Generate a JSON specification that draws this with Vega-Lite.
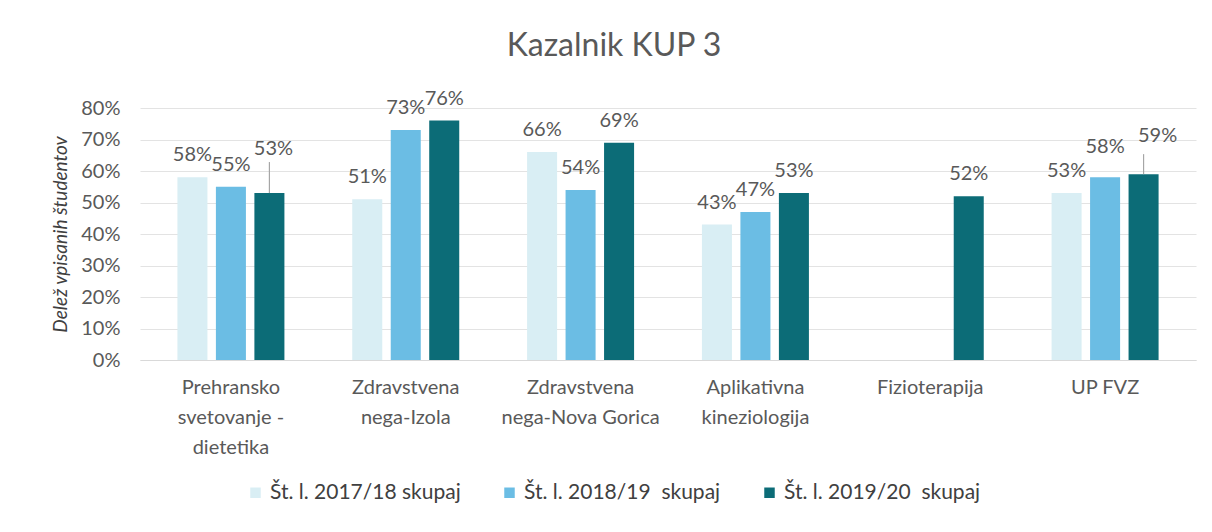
{
  "$schema": "https://vega.github.io/schema/vega-lite/v6.json",
  "width": 1056,
  "height": 252,
  "autosize": {"type": "none"},
  "padding": {"left": 140, "top": 108, "right": 16, "bottom": 172},
  "background": "white",
  "title": {"text": "Kazalnik KUP 3", "fontSize": 32, "font": "Lato", "fontWeight": "normal", "color": "#595959", "offset": 26, "anchor": "middle", "dx": -54},
  "config": {"view": {"stroke": null}, "font": "Lato"},
  "data": {"values": [
    {"program": "Prehransko svetovanje - dietetika", "leto": "Št. l. 2017/18 skupaj", "delez": 0.58},
    {"program": "Prehransko svetovanje - dietetika", "leto": "Št. l. 2018/19  skupaj", "delez": 0.55},
    {"program": "Prehransko svetovanje - dietetika", "leto": "Št. l. 2019/20  skupaj", "delez": 0.53},
    {"program": "Zdravstvena nega-Izola", "leto": "Št. l. 2017/18 skupaj", "delez": 0.51},
    {"program": "Zdravstvena nega-Izola", "leto": "Št. l. 2018/19  skupaj", "delez": 0.73},
    {"program": "Zdravstvena nega-Izola", "leto": "Št. l. 2019/20  skupaj", "delez": 0.76},
    {"program": "Zdravstvena nega-Nova Gorica", "leto": "Št. l. 2017/18 skupaj", "delez": 0.66},
    {"program": "Zdravstvena nega-Nova Gorica", "leto": "Št. l. 2018/19  skupaj", "delez": 0.54},
    {"program": "Zdravstvena nega-Nova Gorica", "leto": "Št. l. 2019/20  skupaj", "delez": 0.69},
    {"program": "Aplikativna kineziologija", "leto": "Št. l. 2017/18 skupaj", "delez": 0.43},
    {"program": "Aplikativna kineziologija", "leto": "Št. l. 2018/19  skupaj", "delez": 0.47},
    {"program": "Aplikativna kineziologija", "leto": "Št. l. 2019/20  skupaj", "delez": 0.53},
    {"program": "Fizioterapija", "leto": "Št. l. 2019/20  skupaj", "delez": 0.52},
    {"program": "UP FVZ", "leto": "Št. l. 2017/18 skupaj", "delez": 0.53},
    {"program": "UP FVZ", "leto": "Št. l. 2018/19  skupaj", "delez": 0.58},
    {"program": "UP FVZ", "leto": "Št. l. 2019/20  skupaj", "delez": 0.59}
  ]},
  "encoding": {
    "x": {
      "field": "program", "type": "nominal", "sort": null,
      "scale": {"paddingInner": 0.388, "paddingOuter": 0.214},
      "axis": {
        "title": null, "labelAngle": 0, "labelFontSize": 20, "labelColor": "#595959",
        "labelPadding": 17, "ticks": false, "domain": true, "domainColor": "#d9d9d9",
        "labelLineHeight": 30, "labelBaseline": "top",
        "labelExpr": "datum.label == 'Prehransko svetovanje - dietetika' ? ['Prehransko', 'svetovanje -', 'dietetika'] : datum.label == 'Zdravstvena nega-Izola' ? ['Zdravstvena', 'nega-Izola'] : datum.label == 'Zdravstvena nega-Nova Gorica' ? ['Zdravstvena', 'nega-Nova Gorica'] : datum.label == 'Aplikativna kineziologija' ? ['Aplikativna', 'kineziologija'] : datum.label"
      }
    },
    "xOffset": {"field": "leto", "type": "nominal", "scale": {"domain": ["Št. l. 2017/18 skupaj", "Št. l. 2018/19  skupaj", "Št. l. 2019/20  skupaj"], "paddingInner": 0.22}},
    "y": {
      "field": "delez", "type": "quantitative",
      "scale": {"domain": [0, 0.8]},
      "axis": {
        "title": "Delež vpisanih študentov", "titleFontStyle": "italic", "titleFontWeight": "normal",
        "titleFontSize": 19, "titleColor": "#404040", "titlePadding": 10,
        "format": ".0%", "tickCount": 8, "labelFontSize": 20, "labelColor": "#595959",
        "labelPadding": 20, "ticks": false, "domain": false,
        "gridColor": "#e3e3e3", "gridWidth": 1
      }
    },
    "color": {
      "field": "leto", "type": "nominal",
      "scale": {"domain": ["Št. l. 2017/18 skupaj", "Št. l. 2018/19  skupaj", "Št. l. 2019/20  skupaj"], "range": ["#d9eef4", "#6bbde4", "#0c6c77"]},
      "legend": {
        "title": null, "orient": "none", "direction": "horizontal", "legendX": 105, "legendY": 374,
        "symbolType": "square", "symbolSize": 110, "symbolStrokeWidth": 0, "labelFontSize": 21,
        "labelColor": "#404040", "columnPadding": 38, "labelOffset": 4, "labelLimit": 0,
        "labelExpr": "replace(datum.label, '  ', '\u00a0\u00a0')"
      }
    }
  },
  "layer": [
    {"mark": {"type": "bar"}},
    {
      "transform": [{"filter": "!(datum.leto == 'Št. l. 2019/20  skupaj' && (datum.program == 'Prehransko svetovanje - dietetika' || datum.program == 'UP FVZ')) && !(datum.program == 'UP FVZ' && datum.leto == 'Št. l. 2018/19  skupaj')"}],
      "mark": {"type": "text", "dy": -22, "fontSize": 20, "color": "#595959"},
      "encoding": {"text": {"field": "delez", "type": "quantitative", "format": ".0%"}, "color": {"value": "#595959"}}
    },
    {
      "transform": [{"filter": "datum.program == 'UP FVZ' && datum.leto == 'Št. l. 2018/19  skupaj'"}],
      "mark": {"type": "text", "dy": -30, "fontSize": 20, "color": "#595959"},
      "encoding": {"text": {"field": "delez", "type": "quantitative", "format": ".0%"}, "color": {"value": "#595959"}}
    },
    {
      "transform": [{"filter": "datum.leto == 'Št. l. 2019/20  skupaj' && datum.program == 'Prehransko svetovanje - dietetika'"}],
      "mark": {"type": "text", "dy": -44, "dx": 4, "fontSize": 20, "color": "#595959"},
      "encoding": {"text": {"field": "delez", "type": "quantitative", "format": ".0%"}, "color": {"value": "#595959"}}
    },
    {
      "transform": [{"filter": "datum.leto == 'Št. l. 2019/20  skupaj' && datum.program == 'UP FVZ'"}],
      "mark": {"type": "text", "dy": -38, "dx": 14, "fontSize": 20, "color": "#595959"},
      "encoding": {"text": {"field": "delez", "type": "quantitative", "format": ".0%"}, "color": {"value": "#595959"}}
    },
    {
      "transform": [{"filter": "datum.leto == 'Št. l. 2019/20  skupaj' && (datum.program == 'Prehransko svetovanje - dietetika')"}],
      "mark": {"type": "rule", "color": "#a6a6a6", "strokeWidth": 1.2, "y2Offset": -31},
      "encoding": {"y2": {"field": "delez"}, "color": {"value": "#a6a6a6"}}
    },
    {
      "transform": [{"filter": "datum.leto == 'Št. l. 2019/20  skupaj' && datum.program == 'UP FVZ'"}],
      "mark": {"type": "rule", "color": "#a6a6a6", "strokeWidth": 1.2, "y2Offset": -20},
      "encoding": {"y2": {"field": "delez"}, "color": {"value": "#a6a6a6"}}
    }
  ]
}
